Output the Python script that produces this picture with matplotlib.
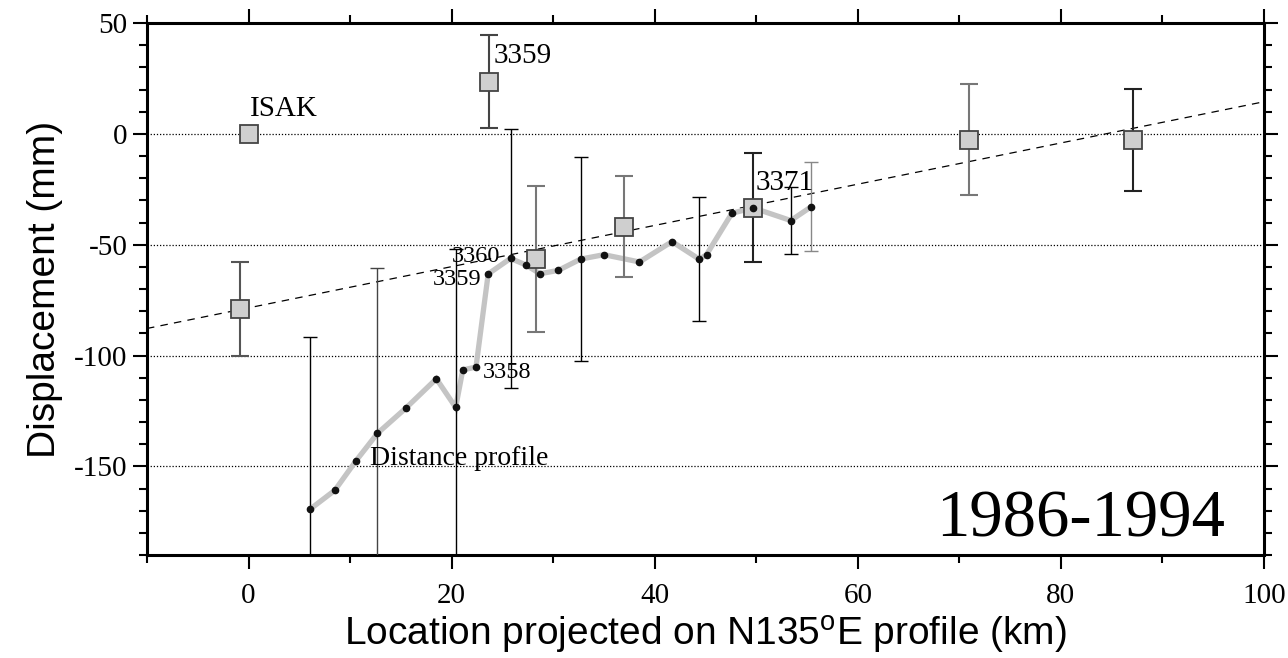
import matplotlib
matplotlib.use("Agg")
import matplotlib.pyplot as plt
from matplotlib.ticker import MultipleLocator

# GPS stations (squares), last one is ISAK reference with no error bar
gps_x = [-0.8, 23.7, 28.3, 37.0, 49.7, 70.9, 87.1, 0.0]
gps_y = [-79.0, 23.5, -56.3, -41.8, -33.3, -2.7, -2.7, 0.0]
gps_err = [21.0, 21.0, 33.0, 23.0, 24.5, 25.0, 23.0, 0.0]
gps_err_color = ["#555555", "#444444", "#777777", "#777777", "#222222", "#777777", "#222222", "k"]

# distance profile points
prof_x = [6.1, 8.5, 10.6, 12.7, 15.5, 18.5, 20.4, 21.1, 22.4, 23.6, 25.8, 27.3,
          28.7, 30.5, 32.7, 35.0, 38.5, 41.7, 44.4, 45.1, 47.6, 49.7, 53.4, 55.4]
prof_y = [-169.2, -160.8, -147.4, -135.1, -123.7, -110.5, -123.4, -106.5, -105.2,
          -63.2, -56.2, -59.1, -63.1, -61.6, -56.5, -54.5, -57.8, -48.6, -56.6,
          -54.5, -35.8, -33.4, -39.1, -32.9]
prof_err = [77.5, 0, 0, 74.6, 0, 0, 71.4, 0, 0, 0, 58.5, 0,
            0, 0, 46.0, 0, 0, 0, 28.0, 0, 0, 0, 15.0, 20.0]
prof_err_color = ["k"] * 24
prof_err_color[3] = "#444444"
prof_err_color[23] = "#888888"

# linear trend
trend_intercept = -78.5
trend_slope = 0.93

serif = ["Liberation Serif", "DejaVu Serif"]
sans = ["Liberation Sans", "DejaVu Sans"]
plt.rcParams["mathtext.fontset"] = "custom"
plt.rcParams["mathtext.rm"] = "Liberation Sans"
plt.rcParams["axes.unicode_minus"] = False

fig = plt.figure(figsize=(12.88, 6.58), dpi=100)
ax = fig.add_axes([0.1141, 0.1565, 0.8673, 0.8085])

xlim = (-10, 100)
ylim = (-190, 50)

# dotted reference lines
for yy in [0, -50, -100, -150]:
    ax.axhline(yy, color="k", lw=0.9, ls=(0, (1, 1.5)), zorder=1)

# trend line
ax.plot(xlim, [trend_intercept + trend_slope * v for v in xlim],
        color="k", lw=0.9, ls=(0, (6, 5)), zorder=2)

# profile line
ax.plot(prof_x, prof_y, color="#c4c4c4", lw=3.8, zorder=3, solid_joinstyle="miter")

# profile error bars
for x, y, e, c in zip(prof_x, prof_y, prof_err, prof_err_color):
    if e > 0:
        ax.errorbar(x, y, yerr=e, fmt="none", ecolor=c, elinewidth=1.0,
                    capsize=5, capthick=1.0, zorder=4)

# GPS error bars and squares
for x, y, e, c in zip(gps_x, gps_y, gps_err, gps_err_color):
    if e > 0:
        ax.errorbar(x, y, yerr=e, fmt="none", ecolor=c, elinewidth=1.5,
                    capsize=6.5, capthick=1.5, zorder=4)
ax.plot(gps_x, gps_y, ls="none", marker="s", ms=13, mfc="#cfcfcf",
        mec="#444444", mew=1.3, zorder=5)

# profile dots
ax.plot(prof_x, prof_y, ls="none", marker="o", ms=4.5, color="#111111", zorder=6)

# annotations
ax.text(0.15, 8.1, "ISAK", family=serif, fontsize=21, zorder=7)
ax.text(24.1, 32.0, "3359", family=serif, fontsize=21, zorder=7)
ax.text(49.9, -25.2, "3371", family=serif, fontsize=21, zorder=7)
ax.text(20.05, -58.0, "3360", family=serif, fontsize=17.5, zorder=7)
ax.text(18.1, -68.0, "3359", family=serif, fontsize=17.5, zorder=7)
ax.text(23.1, -110.0, "3358", family=serif, fontsize=17.5, zorder=7)
ax.text(12.0, -149.5, "Distance profile", family=serif, fontsize=20, zorder=7)
ax.text(96.2, -181.5, "1986-1994", family=serif, fontsize=48, ha="right", zorder=7)

ax.set_xlim(*xlim)
ax.set_ylim(*ylim)
ax.xaxis.set_major_locator(MultipleLocator(20))
ax.xaxis.set_minor_locator(MultipleLocator(10))
ax.yaxis.set_major_locator(MultipleLocator(50))
ax.yaxis.set_minor_locator(MultipleLocator(10))

for s in ax.spines.values():
    s.set_linewidth(2.2)
ax.tick_params(which="both", direction="out", top=True, right=True, width=1.5)
ax.tick_params(which="major", length=10)
ax.tick_params(which="minor", length=5.5)
ax.tick_params(axis="x", pad=10)
ax.tick_params(axis="y", pad=4)
for lab in ax.get_xticklabels() + ax.get_yticklabels():
    lab.set_family(serif)
    lab.set_fontsize(21)

ax.set_xlabel("Location projected on N135$^{\\mathrm{o}}$E profile (km)",
              family=sans, fontsize=28, labelpad=4)
ax.set_ylabel("Displacement (mm)", family=sans, fontsize=28, labelpad=8)

fig.savefig("out.png", dpi=100)
